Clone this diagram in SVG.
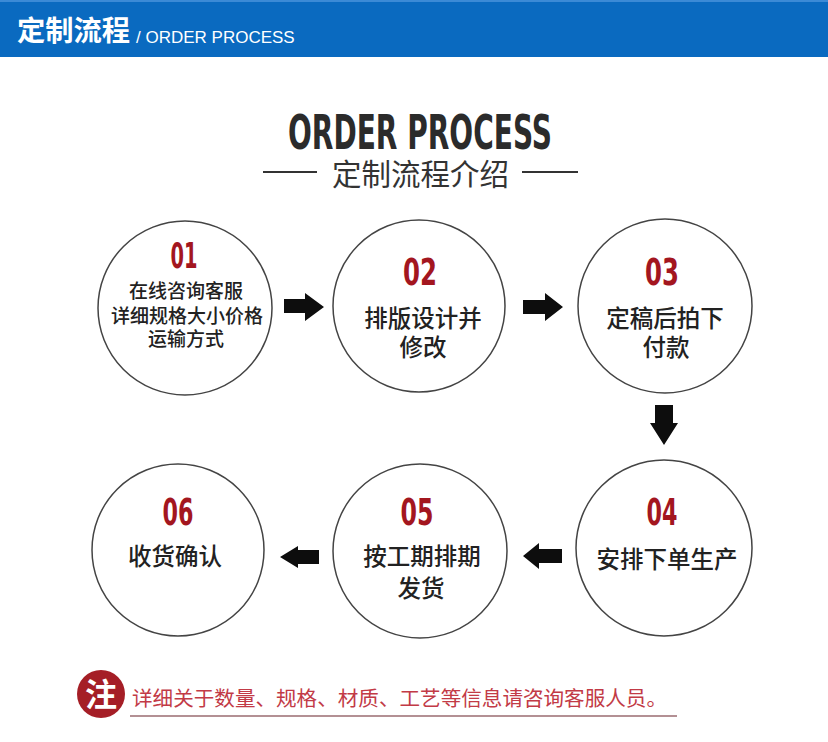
<svg xmlns="http://www.w3.org/2000/svg" width="828" height="742" viewBox="0 0 828 742">
<style>
.node circle{fill:#fff;stroke:#444;stroke-width:1.5}
.num{font-family:"DejaVu Sans","Liberation Sans",sans-serif;font-weight:bold;fill:#a3161f;text-anchor:middle}
.cn{font-family:"Noto Sans CJK SC",sans-serif;font-weight:500;fill:#222;text-anchor:middle;font-size:23.5px}
.cn1{font-size:19px}
.arrow{fill:#0d0d0d}
</style>
<rect x="0" y="0" width="828" height="742" fill="#fff"/>
<g id="header">
<rect x="0" y="0" width="828" height="57" fill="#0a6ac0"/>
<rect x="0" y="0" width="828" height="2" fill="#3b8ad6"/>
<text x="17" y="41" font-family="Noto Sans CJK SC,sans-serif" font-weight="bold" font-size="28" fill="#fff" textLength="113" lengthAdjust="spacingAndGlyphs">定制流程</text>
<text x="136" y="43" font-family="Liberation Sans,Arial,sans-serif" font-size="17" fill="#fff">/ ORDER PROCESS</text>
</g>
<g id="title">
<text x="288" y="149" font-family="DejaVu Sans,sans-serif" font-weight="bold" font-size="48" fill="#2b2b2b" textLength="264" lengthAdjust="spacingAndGlyphs">ORDER PROCESS</text>
<line x1="263" y1="172" x2="317" y2="172" stroke="#333" stroke-width="2"/>
<line x1="522" y1="172" x2="578" y2="172" stroke="#333" stroke-width="2"/>
<text x="420.5" y="185" font-family="Noto Sans CJK SC,sans-serif" font-size="29.5" fill="#333" text-anchor="middle">定制流程介绍</text>
</g>
<g id="connectors">
<polygon class="arrow" points="284,299 305,299 305,293 324,307 305,321 305,313 284,313"/>
<polygon class="arrow" points="523,300 545,300 545,293 563,307 545,321 545,314 523,314"/>
<polygon class="arrow" points="655,405 673,405 673,423 678,423 664,445 650,423 655,423"/>
<polygon class="arrow" points="562,549 539,549 539,543 523,556 539,569 539,563 562,563"/>
<polygon class="arrow" points="319,550 298,550 298,546 280,557 298,568 298,564 319,564"/>
</g>
<g id="step1" class="node">
<circle cx="185" cy="308" r="87"/>
<text class="num" x="184" y="268" font-size="36" textLength="27" lengthAdjust="spacingAndGlyphs">01</text>
<text class="cn cn1" x="186" y="298">在线咨询客服</text>
<text class="cn cn1" x="187" y="323">详细规格大小价格</text>
<text class="cn cn1" x="186" y="346">运输方式</text>
</g>
<g id="step2" class="node">
<circle cx="419" cy="306" r="86"/>
<text class="num" x="420" y="285" font-size="38" textLength="34" lengthAdjust="spacingAndGlyphs">02</text>
<text class="cn" x="423" y="327">排版设计并</text>
<text class="cn" x="423" y="356">修改</text>
</g>
<g id="step3" class="node">
<circle cx="665" cy="306" r="87"/>
<text class="num" x="662" y="285" font-size="38" textLength="34" lengthAdjust="spacingAndGlyphs">03</text>
<text class="cn" x="665" y="327">定稿后拍下</text>
<text class="cn" x="666" y="356">付款</text>
</g>
<g id="step4" class="node">
<circle cx="664" cy="548" r="88"/>
<text class="num" x="662" y="525" font-size="38" textLength="31" lengthAdjust="spacingAndGlyphs">04</text>
<text class="cn" x="667" y="568">安排下单生产</text>
</g>
<g id="step5" class="node">
<circle cx="420" cy="551" r="87"/>
<text class="num" x="417" y="525" font-size="38" textLength="33" lengthAdjust="spacingAndGlyphs">05</text>
<text class="cn" x="422" y="565">按工期排期</text>
<text class="cn" x="421" y="597">发货</text>
</g>
<g id="step6" class="node">
<circle cx="178" cy="550" r="86"/>
<text class="num" x="178" y="525" font-size="38" textLength="31" lengthAdjust="spacingAndGlyphs">06</text>
<text class="cn" x="175" y="565">收货确认</text>
</g>
<g id="note">
<circle cx="101" cy="694" r="24" fill="#a51e26"/>
<text x="101" y="706" font-family="Noto Sans CJK SC,sans-serif" font-weight="bold" font-size="32" fill="#fff" text-anchor="middle">注</text>
<line x1="130" y1="716" x2="677" y2="716" stroke="#9a6b70" stroke-width="1.5"/>
<text x="132" y="706" font-family="Noto Sans CJK SC,sans-serif" font-size="20.5" fill="#c23a46" textLength="535" lengthAdjust="spacingAndGlyphs">详细关于数量、规格、材质、工艺等信息请咨询客服人员。</text>
</g>
</svg>
